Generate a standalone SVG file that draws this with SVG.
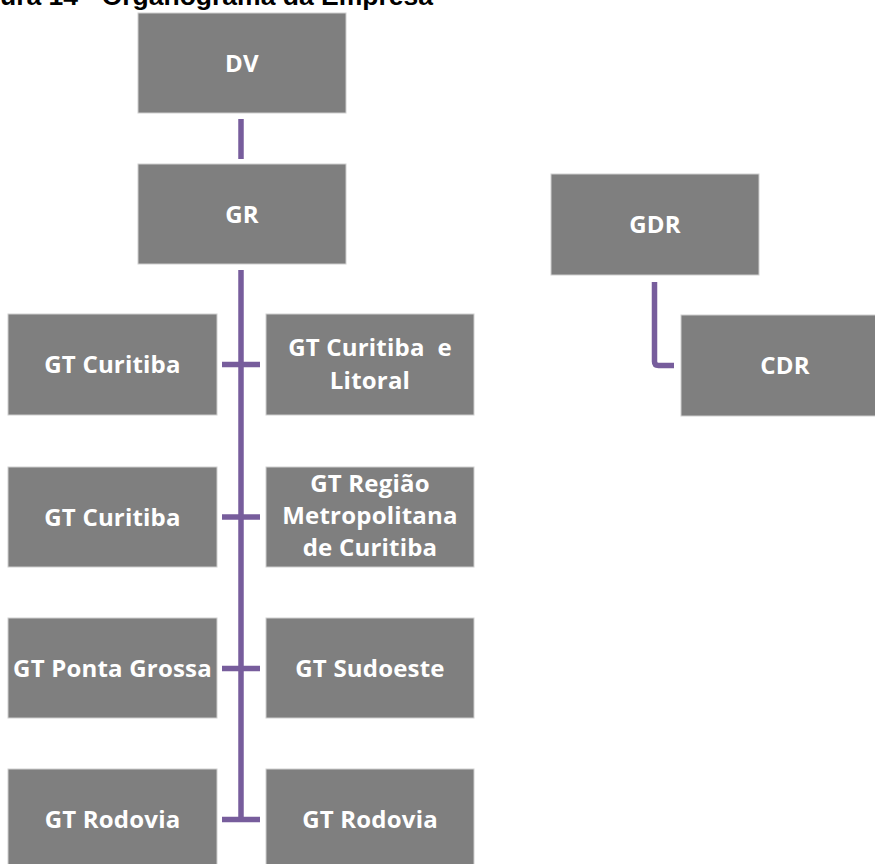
<svg xmlns="http://www.w3.org/2000/svg" width="875" height="864" viewBox="0 0 875 864">
<style>
.box{fill:#7f7f7f;stroke:#cfcfcf;stroke-width:1}
.lbl{font-family:"Open Sans","DejaVu Sans",sans-serif;font-weight:bold;font-size:24px;fill:#ffffff;text-anchor:middle;letter-spacing:0.2px}
.con{stroke:#775d9c;stroke-width:5.5;fill:none}
.title{font-family:"Liberation Sans",Arial,sans-serif;font-weight:bold;font-size:26.5px;fill:#000000}
</style>
<rect width="875" height="864" fill="#ffffff"/>
<text class="title" x="0" y="5">ura 14 - Organograma da Empresa</text>
<g id="connectors">
<line class="con" x1="241" y1="119" x2="241" y2="159"/>
<line class="con" x1="241" y1="270" x2="241" y2="822"/>
<line class="con" x1="222" y1="364.5" x2="260" y2="364.5"/>
<line class="con" x1="222" y1="517" x2="260" y2="517"/>
<line class="con" x1="222" y1="668.5" x2="260" y2="668.5"/>
<line class="con" x1="222" y1="819.5" x2="260" y2="819.5"/>
<path class="con" d="M654.5 282 V361.5 Q654.5 365.5 658.5 365.5 H674"/>
</g>
<g id="dv"><rect class="box" x="138" y="13" width="208" height="100"/><text class="lbl" x="242" y="71.5">DV</text></g>
<g id="gr"><rect class="box" x="138" y="164" width="208" height="100"/><text class="lbl" x="242" y="222.5">GR</text></g>
<g id="gdr"><rect class="box" x="551" y="174" width="208" height="101"/><text class="lbl" x="655" y="233">GDR</text></g>
<g id="cdr"><rect class="box" x="681" y="315" width="208" height="101"/><text class="lbl" x="785" y="374">CDR</text></g>
<g id="gt-curitiba-1"><rect class="box" x="8" y="314" width="209" height="101"/><text class="lbl" x="112.5" y="373">GT Curitiba</text></g>
<g id="gt-curitiba-litoral"><rect class="box" x="266" y="314" width="208" height="101"/><text class="lbl" x="370" y="356" xml:space="preserve">GT Curitiba  e</text><text class="lbl" x="370" y="388.5">Litoral</text></g>
<g id="gt-curitiba-2"><rect class="box" x="8" y="467" width="209" height="100"/><text class="lbl" x="112.5" y="525.5">GT Curitiba</text></g>
<g id="gt-regiao-metropolitana"><rect class="box" x="266" y="467" width="208" height="100"/><text class="lbl" x="370" y="492">GT Região</text><text class="lbl" x="370" y="523.5">Metropolitana</text><text class="lbl" x="370" y="555.5">de Curitiba</text></g>
<g id="gt-ponta-grossa"><rect class="box" x="8" y="618" width="209" height="100"/><text class="lbl" x="112.5" y="677">GT Ponta Grossa</text></g>
<g id="gt-sudoeste"><rect class="box" x="266" y="618" width="208" height="100"/><text class="lbl" x="370" y="677">GT Sudoeste</text></g>
<g id="gt-rodovia-1"><rect class="box" x="8" y="769" width="209" height="101"/><text class="lbl" x="112.5" y="828">GT Rodovia</text></g>
<g id="gt-rodovia-2"><rect class="box" x="266" y="769" width="208" height="101"/><text class="lbl" x="370" y="828">GT Rodovia</text></g>
</svg>
